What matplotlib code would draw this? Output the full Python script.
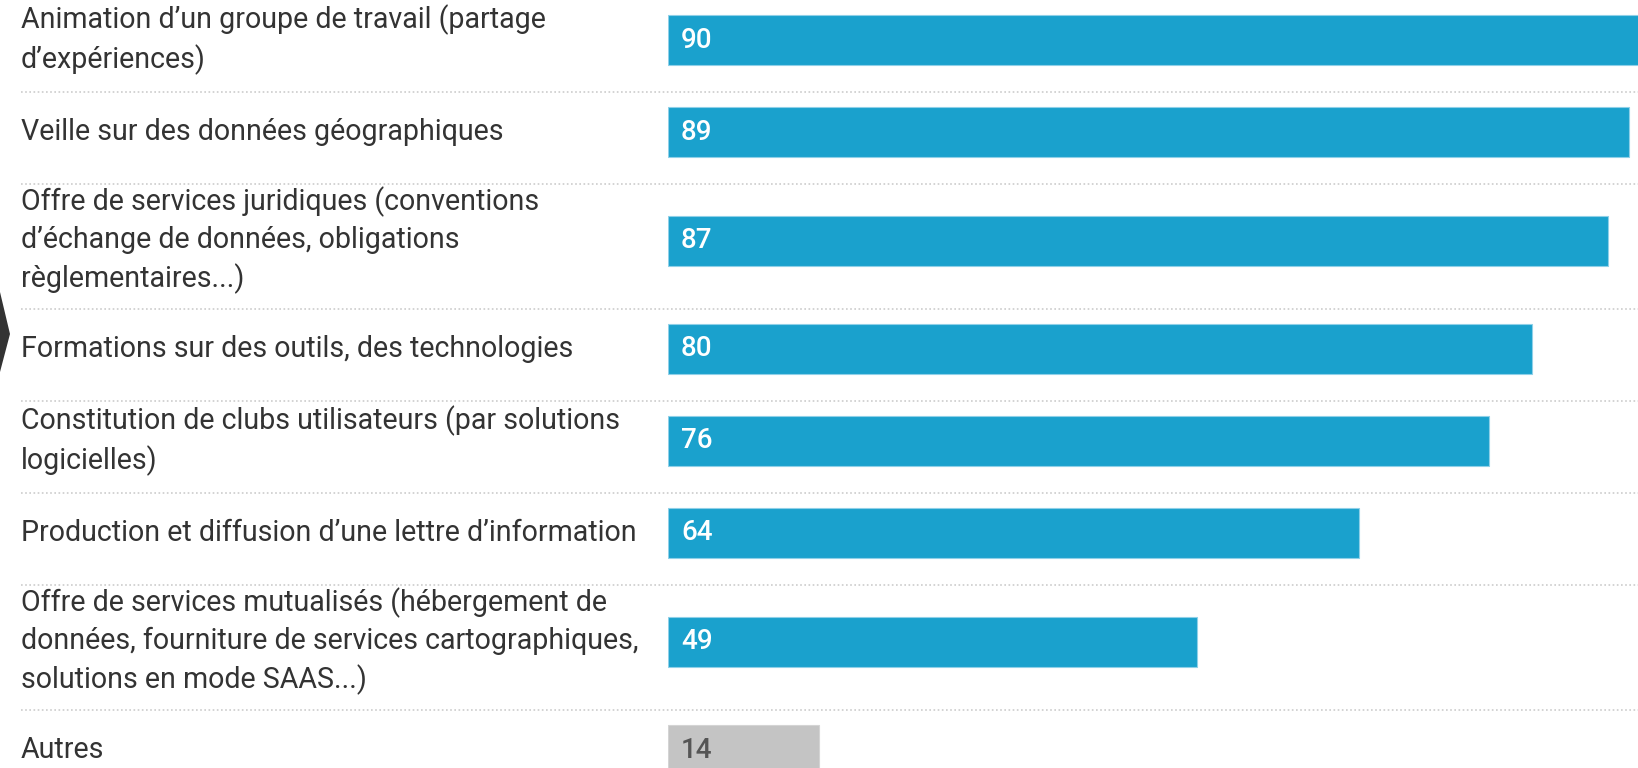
import matplotlib
matplotlib.use('Agg')
import matplotlib.pyplot as plt
from matplotlib.transforms import blended_transform_factory
from matplotlib.patches import Polygon

plt.rcParams['font.family'] = ['Roboto', 'DejaVu Sans']

# Data
labels = [
    "Animation d\u2019un groupe de travail (partage\nd\u2019exp\u00e9riences)",
    "Veille sur des donn\u00e9es g\u00e9ographiques",
    "Offre de services juridiques (conventions\nd\u2019\u00e9change de donn\u00e9es, obligations\nr\u00e8glementaires...)",
    "Formations sur des outils, des technologies",
    "Constitution de clubs utilisateurs (par solutions\nlogicielles)",
    "Production et diffusion d\u2019une lettre d\u2019information",
    "Offre de services mutualis\u00e9s (h\u00e9bergement de\ndonn\u00e9es, fourniture de services cartographiques,\nsolutions en mode SAAS...)",
    "Autres",
]
values = [90, 89, 87, 80, 76, 64, 49, 14]
is_other = [False, False, False, False, False, False, False, True]

BLUE = '#1aa1cd'
GREY = '#c4c4c4'
TEXT = '#333333'

W, H = 1638, 768
fig = plt.figure(figsize=(W / 100, H / 100), dpi=100)
fig.patch.set_facecolor('white')

bar_left_px = 668
ax = fig.add_axes([bar_left_px / W, 0, 1 - bar_left_px / W, 1])
ax.set_xlim(0, 89.8)
ax.set_ylim(H, 0)
ax.axis('off')

# row layout in pixel units (taller rows for 3-line labels)
tops = []
heights = []
y = 0
for lab in labels:
    n = lab.count('\n') + 1
    h = 125 if n >= 3 else 92
    tops.append(y)
    heights.append(h)
    y += h
centers = [t + h / 2 - 6 for t, h in zip(tops, heights)]

colors = [GREY if o else BLUE for o in is_other]
edges = ['#d4d4d4' if o else '#8fd0e8' for o in is_other]
ax.barh(centers, values, height=50, color=colors, edgecolor=edges,
        linewidth=0.8)

trans = blended_transform_factory(fig.transFigure, ax.transData)
for lab, v, c, o, t in zip(labels, values, centers, is_other, tops):
    ax.text(21 / W, c, lab, transform=trans, ha='left', va='center',
            fontsize=20.6, color=TEXT, linespacing=1.4)
    ax.text(1.2, c, str(v), ha='left', va='center', fontsize=20,
            fontweight='medium', color='#555555' if o else 'white')
    if t > 0:
        ax.plot([21 / W, 1], [t, t], transform=trans, color='#cccccc',
                linestyle=(0, (1, 1.5)), linewidth=1.2, clip_on=False)

# dark arrow shape at the left edge
fig.patches.append(Polygon([(0, 1 - 292 / H), (10 / W, 1 - 334 / H), (0, 1 - 372 / H)],
                           closed=True, transform=fig.transFigure,
                           facecolor='#333333', edgecolor='none'))

fig.savefig('out.png', dpi=100)
